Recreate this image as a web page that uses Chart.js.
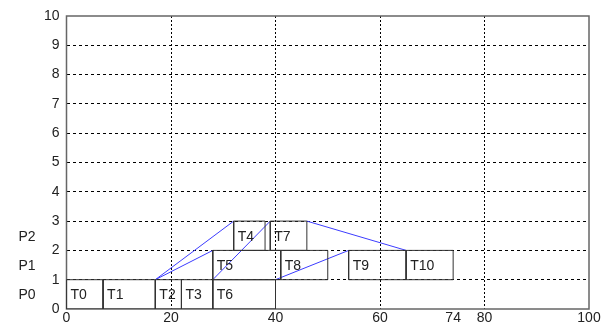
<!DOCTYPE html>
<html>
<head>
<meta charset="utf-8">
<script src="https://cdn.jsdelivr.net/npm/chart.js@4"></script>
<style>
  html, body { margin: 0; padding: 0; background: #fff; }
  #wrap { width: 603px; height: 329px; }
</style>
</head>
<body>
<div id="wrap"><canvas id="c" width="603" height="329"></canvas></div>
<script>
// Schedule: task names, processor row, start and finish times
const taskNames = ['T0', 'T1', 'T2', 'T3', 'T4', 'T5', 'T6', 'T7', 'T8', 'T9', 'T10'];
const taskProc  = [0, 0, 0, 0, 2, 1, 0, 2, 1, 1, 1];
const taskStart = [0, 7, 17, 22, 32, 28, 28, 39, 41, 54, 65];
const taskEnd   = [7, 17, 22, 28, 38, 41, 40, 46, 50, 65, 74];

// Communication edges between tasks (source task -> destination task)
const edgeFrom = [1, 1, 3, 6, 7];
const edgeTo   = [4, 5, 7, 9, 10];

// Processor row names
const procNames = ['P0', 'P1', 'P2'];

// Axis ticks
const xTicks = [0, 20, 40, 60, 74, 80, 100];
const xGridTicks = [20, 40, 60, 80];
const yTicks = [0, 1, 2, 3, 4, 5, 6, 7, 8, 9, 10];

const FONT = 'Liberation Sans, Arial, sans-serif';

const datasets = [];
taskNames.forEach((name, i) => {
  const lo = taskProc[i], hi = taskProc[i] + 1;
  datasets.push({
    label: name,
    data: [
      { x: taskStart[i], y: lo }, { x: taskEnd[i], y: lo },
      { x: taskEnd[i], y: hi }, { x: taskStart[i], y: hi },
      { x: taskStart[i], y: lo }
    ],
    showLine: true, borderColor: '#333', borderWidth: 1,
    pointRadius: 0, tension: 0, fill: false
  });
});
edgeFrom.forEach((f, k) => {
  const t = edgeTo[k];
  datasets.push({
    label: 'edge' + k,
    data: [
      { x: taskEnd[f], y: taskProc[f] + 1 },
      { x: taskStart[t], y: taskProc[t] + 1 }
    ],
    showLine: true, borderColor: '#3c3cff', borderWidth: 1,
    pointRadius: 0, tension: 0, fill: false
  });
});

// Frame, task labels and processor labels
const annotate = {
  id: 'annotate',
  beforeDatasetsDraw(chart) {
    const { ctx, chartArea: a } = chart;
    ctx.save();
    ctx.strokeStyle = '#666';
    ctx.lineWidth = 1.5;
    ctx.strokeRect(a.left, a.top, a.right - a.left, a.bottom - a.top);
    ctx.restore();
  },
  afterDatasetsDraw(chart) {
    const { ctx, scales: { x, y } } = chart;
    ctx.save();
    ctx.fillStyle = '#222';
    ctx.font = '14px ' + FONT;
    ctx.textBaseline = 'middle';
    ctx.textAlign = 'left';
    taskNames.forEach((name, i) => {
      const px = x.getPixelForValue(taskStart[i]) + 4;
      const py = y.getPixelForValue(taskProc[i] + 0.5) + 1;
      ctx.fillText(name, px, py);
    });
    ctx.textAlign = 'center';
    procNames.forEach((name, p) => {
      ctx.fillText(name, 27, y.getPixelForValue(p + 0.5) + 1);
    });
    ctx.restore();
  }
};

new Chart(document.getElementById('c'), {
  type: 'scatter',
  data: { datasets },
  options: {
    responsive: false,
    animation: false,
    events: [],
    layout: { padding: { top: 16, right: 14, left: 0, bottom: 0 } },
    plugins: { legend: { display: false }, tooltip: { enabled: false } },
    scales: {
      x: {
        type: 'linear', min: 0, max: 100,
        afterBuildTicks(s) { s.ticks = xTicks.map(v => ({ value: v })); },
        afterFit(s) { s.height = 20; },
        ticks: { color: '#222', font: { family: FONT, size: 14 }, padding: 1, maxRotation: 0, autoSkip: false },
        grid: {
          drawTicks: false,
          color: ctx => xGridTicks.includes(ctx.tick && ctx.tick.value) ? '#000' : 'rgba(0,0,0,0)',
          lineWidth: 1
        },
        border: { display: false, dash: [2, 2] }
      },
      y: {
        type: 'linear', min: 0, max: 10,
        afterBuildTicks(s) { s.ticks = yTicks.map(v => ({ value: v })); },
        afterFit(s) { s.width = 66.5; },
        ticks: { color: '#222', font: { family: FONT, size: 14 }, padding: 7 },
        grid: {
          drawTicks: false,
          color: ctx => {
            const v = ctx.tick && ctx.tick.value;
            return (v > 0 && v < 10) ? '#000' : 'rgba(0,0,0,0)';
          },
          lineWidth: 1
        },
        border: { display: false, dash: [3, 3] }
      }
    }
  },
  plugins: [annotate]
});
</script>
</body>
</html>
